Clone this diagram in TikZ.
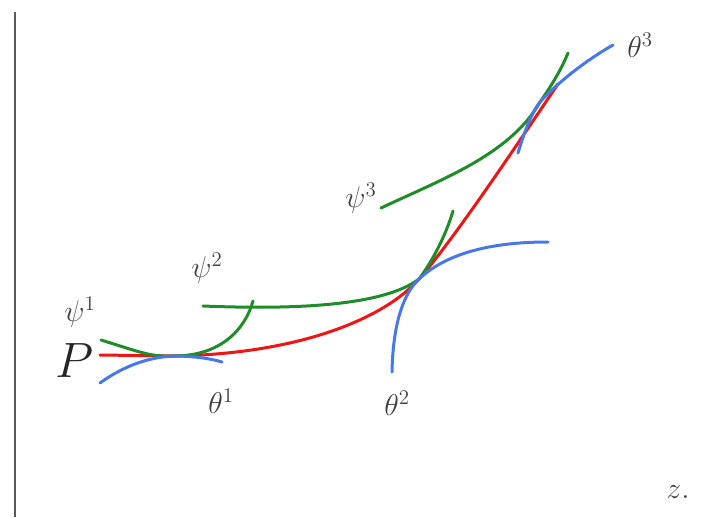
\documentclass[tikz,border=0pt]{standalone}
\usepackage{tikz}

\definecolor{curvered}{RGB}{240,20,20}
\definecolor{curvegreen}{RGB}{30,140,40}
\definecolor{curveblue}{RGB}{70,120,235}

\tikzset{
  curve/.style={line width=3pt, line cap=round},
  lbl/.style={inner sep=0pt, text=black!75, font=\huge, transform shape, scale=1.45},
}

\begin{document}
\begin{tikzpicture}[x=1pt,y=-1pt]
  \useasboundingbox (0,0) rectangle (707,517);

  % axis at the left
  \draw[black!65, line width=2pt] (15,12) -- (15,517);

  % points of contact
  \coordinate (A) at (174,356);
  \coordinate (B) at (419,279);
  \coordinate (C) at (540,102);

  % the curve through P
  \draw[curve, curvered] (100,355) -- (A)
    .. controls (300,354) and (385,318) .. (B)
    .. controls (455,238) and (520,140) .. (558,84);

  % green curves
  \draw[curve, curvegreen] (101,340) .. controls (140,352) and (150,357) .. (A)
    .. controls (220,356) and (245,330) .. (253,301);
  \draw[curve, curvegreen] (203,306) .. controls (300,310) and (385,305) .. (B)
    .. controls (432,262) and (446,235) .. (453,211);
  \draw[curve, curvegreen] (381,208) .. controls (440,180) and (510,155) .. (C)
    .. controls (552,85) and (562,68) .. (568,53);

  % blue curves
  \draw[curve, curveblue] (100,383) .. controls (125,365) and (150,357) .. (A)
    .. controls (195,356) and (212,359) .. (222,362);
  \draw[curve, curveblue] (392,372) .. controls (393,320) and (405,292) .. (B)
    .. controls (450,250) and (500,242) .. (548,242);
  \draw[curve, curveblue] (518,153) .. controls (525,130) and (532,112) .. (C)
    .. controls (560,80) and (590,58) .. (613,45);

  % labels
  \node[lbl] (psi1) at (80,312) {$\psi^1$};
  \node[lbl, text=black!85, scale=1.65] (P) at (75,361) {$P$};
  \node[lbl] (theta1) at (221,401) {$\theta^1$};
  \node[lbl] (psi2) at (207,268) {$\psi^2$};
  \node[lbl] (theta2) at (397,403) {$\theta^2$};
  \node[lbl] (psi3) at (361,198) {$\psi^3$};
  \node[lbl] (theta3) at (640,45) {$\theta^3$};
  \node[lbl] (z) at (678,492) {$z.$};
\end{tikzpicture}
\end{document}
